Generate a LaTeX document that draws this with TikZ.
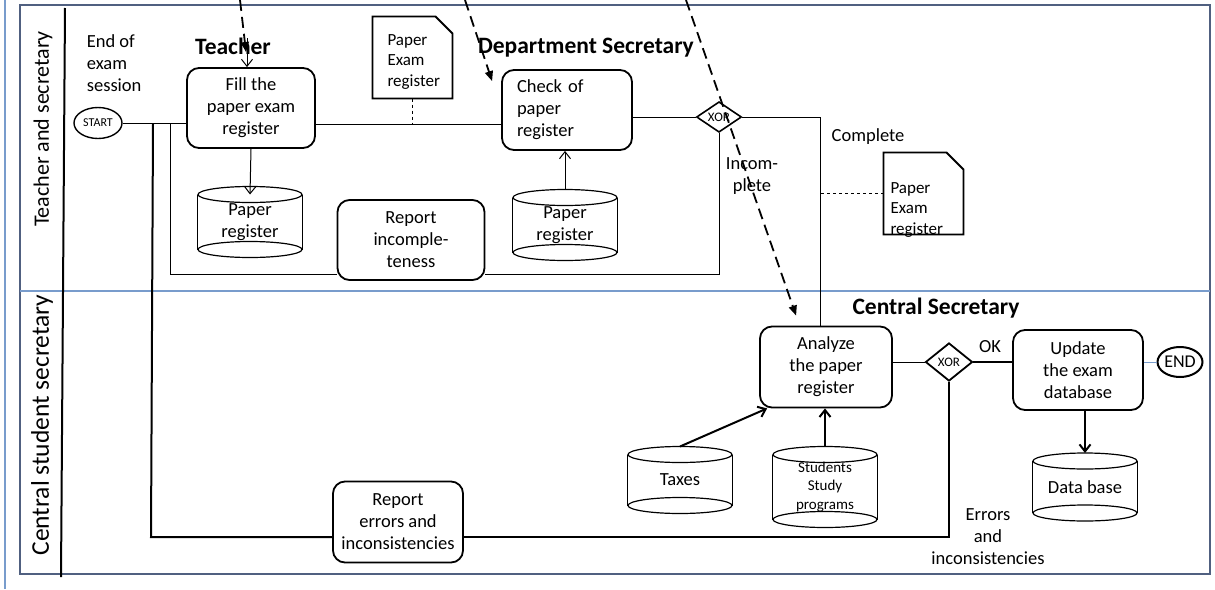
\documentclass[tikz,border=0pt]{standalone}
\usepackage{fontspec}
\setmainfont{Carlito}
\usetikzlibrary{arrows.meta,shapes.geometric}

\definecolor{framegray}{RGB}{80,96,128}
\definecolor{edgeblue}{RGB}{120,156,204}

\tikzset{
  task/.style={draw, line width=1.8pt, rounded corners=12pt, align=center,
    inner sep=0pt, font=\fontsize{18.5}{22}\selectfont},
  store/.style={minimum width=104pt, inner sep=0pt, align=center,
    font=\fontsize{18.5}{22}\selectfont},
  paper/.style={minimum width=79pt, minimum height=81pt, inner sep=0pt},
  papertext/.style={anchor=north west, align=left, inner sep=0pt,
    font=\fontsize{17}{20.5}\selectfont},
  gate/.style={draw, diamond, inner sep=0pt, font=\fontsize{13}{13}\selectfont},
  event/.style={draw, ellipse, inner sep=0pt},
  lane/.style={rotate=90, font=\fontsize{22}{26}\selectfont},
  actor/.style={font=\bfseries\fontsize{23.5}{27}\selectfont},
  note/.style={align=center, font=\fontsize{18.5}{22}\selectfont},
  flow/.style={-{Straight Barb[length=7pt,width=11pt]}},
  link/.style={line width=1.8pt, dash pattern=on 11pt off 6pt,
    -{Triangle[length=10pt,width=8pt]}},
}

\begin{document}
\begin{tikzpicture}[x=1pt, y=-1pt, line width=1pt]
  \useasboundingbox (0,0) rectangle (1215,589);

  % pool and lanes
  \draw[edgeblue, line width=1.5pt] (5,0) -- (5,589);
  \draw[framegray, line width=1.5pt] (20,5) rectangle (1210,574);
  \draw[edgeblue, line width=1.5pt] (20,291) -- (1210,291);
  \draw[line width=2pt] (65,8) -- (61,577);
  \node[lane] (laneA) at (43,129) {Teacher and secretary};
  \node[lane, font=\fontsize{25.5}{30}\selectfont] (laneB) at (42,425) {Central student secretary};

  % actors
  \node[actor] (teacher) at (233,46) {Teacher};
  \node[actor] (deptsec) at (586,48) {Department Secretary};
  \node[actor] (centsec) at (936,308) {Central Secretary};

  % events and gateways
  \node[event, line width=1.4pt, minimum width=48pt, minimum height=31pt,
    font=\fontsize{12}{12}\selectfont] (start) at (98,123) {START};
  \node[event, line width=2pt, minimum width=45pt, minimum height=30pt,
    font=\fontsize{18}{18}\selectfont] (endev) at (1180,362) {END};
  \node[gate, line width=1.6pt, minimum width=45pt, minimum height=30pt] (gx1) at (719,117) {XOR};
  \node[gate, line width=1.8pt, minimum width=47pt, minimum height=38pt] (gx2) at (949,362) {XOR};

  % tasks
  \node[task, minimum width=128pt, minimum height=80pt] (fill) at (251,108)
    {Fill the\\paper exam\\register};
  \node[task, minimum width=130pt, minimum height=80pt, text width=100pt, align=left]
    (check) at (567,110) {Check of\\paper\\register};
  \node[task, minimum width=147pt, minimum height=80pt] (rinc) at (411,240)
    {Report\\incomple-\\teness};
  \node[task, minimum width=132pt, minimum height=81pt] (analyze) at (826,367)
    {Analyze\\the paper\\register};
  \node[task, minimum width=130pt, minimum height=80pt] (update) at (1078,370)
    {Update\\the exam\\database};
  \node[task, minimum width=130pt, minimum height=81pt] (rerr) at (398,522)
    {Report\\errors and\\inconsistencies};

  % data stores
  \node[store, minimum height=54pt] (reg1) at (250,222) {Paper\\register};
  \node[store, minimum height=54pt] (reg2) at (565,225) {Paper\\register};
  \node[store, minimum height=50pt] (taxes) at (680,480) {Taxes};
  \node[store, minimum height=64pt, font=\fontsize{15}{18.5}\selectfont]
    (students) at (825,487) {Students\\Study\\programs};
  \node[store, minimum height=51pt] (dbase) at (1085,487) {Data base};
  \foreach \c in {reg1,reg2,taxes,students,dbase} {
    \draw[line width=1.8pt] (\c.north west) -- (\c.south west)
      (\c.north east) -- (\c.south east);
    \draw[line width=1.2pt] (\c.north) ellipse (52pt and 8pt)
      (\c.south) ellipse (52pt and 8pt);
  }

  % documents
  \node[paper] (doc1) at (412.5,57.5) {};
  \node[paper] (doc2) at (923.5,193.5) {};
  \foreach \p in {doc1,doc2}
    \draw[line width=1.8pt] (\p.south west) -- (\p.north west)
      -- ([xshift=-17pt]\p.north east) -- ([yshift=-17pt]\p.north east)
      -- (\p.south east) -- cycle;
  \node[papertext] (doc1txt) at (387,34) {Paper\\Exam\\register};
  \node[papertext] (doc2txt) at (890,182) {Paper\\Exam\\register};

  % free labels
  \node[note, align=left, anchor=west] (session) at (83,63) {End of\\exam\\session};
  \node[note] (incomplete) at (752,176) {Incom-\\plete};
  \node[note] (complete) at (868,137) {Complete};
  \node[note] (ok) at (990,347) {OK};
  \node[note] (errors) at (988,537) {Errors\\and\\inconsistencies};

  % junctions
  \coordinate (j1) at (153,124);
  \coordinate (j2) at (170,124);
  \coordinate (i1) at (170,274);
  \coordinate (e1) at (151,537);
  \coordinate (c1) at (820,117);

  % sequence flows
  \draw (start.east) -- (start.east -| fill.west);
  \draw[line width=2pt] (j1) -- (e1) -- (e1 -| rerr.west);
  \draw (j2) -- (i1) -- (i1 -| rinc.west);
  \draw (fill.east |- j1) -- (check.west |- j1);
  \draw (gx1.west -| check.east) -- (gx1.west);
  \draw (gx1.south) |- (i1 -| rinc.east);
  \draw (gx1.east) -- (c1) -- (c1 |- analyze.north);
  \draw (analyze.east |- gx2.west) -- (gx2.west);
  \draw[line width=2pt] (gx2.east) -- (gx2.east -| update.west);
  \draw[line width=2pt] (gx2.south) |- (e1 -| rerr.east);
  \draw[edgeblue] (update.east |- endev.west) -- (endev.west);

  % associations
  \draw[dashed] (doc1.south) -- (doc1.south |- j1);
  \draw[dashed] (doc2.west) -- (c1 |- doc2.west);

  % data flows
  \draw[flow] (fill.south) -- (reg1.north);
  \draw[flow] ([yshift=8pt]reg2.north) -- (check.south -| reg2.north);
  \draw[flow, line width=2pt] ([yshift=8pt]taxes.north) -- ([xshift=8pt]analyze.south west);
  \draw[flow, line width=2pt] ([yshift=8pt]students.north) -- (analyze.south -| students.north);
  \draw[flow, line width=2pt] (dbase.north |- update.south) -- ([yshift=8pt]dbase.north);

  % links from the previous page
  \coordinate (t1) at (240,0);
  \coordinate (t1b) at (246,52);
  \coordinate (t1a) at (247,38);
  \coordinate (t2) at (465,0);
  \coordinate (t3) at (686,0);
  \draw[link] (t1) -- (t1b);
  \draw[flow] (t1a) -- (t1a |- fill.north);
  \draw[link] (t2) -- ([xshift=-9pt, yshift=-12pt]check.north west);
  \draw[link] (t3) -- ([xshift=37pt, yshift=10pt]analyze.north west);
\end{tikzpicture}
\end{document}
